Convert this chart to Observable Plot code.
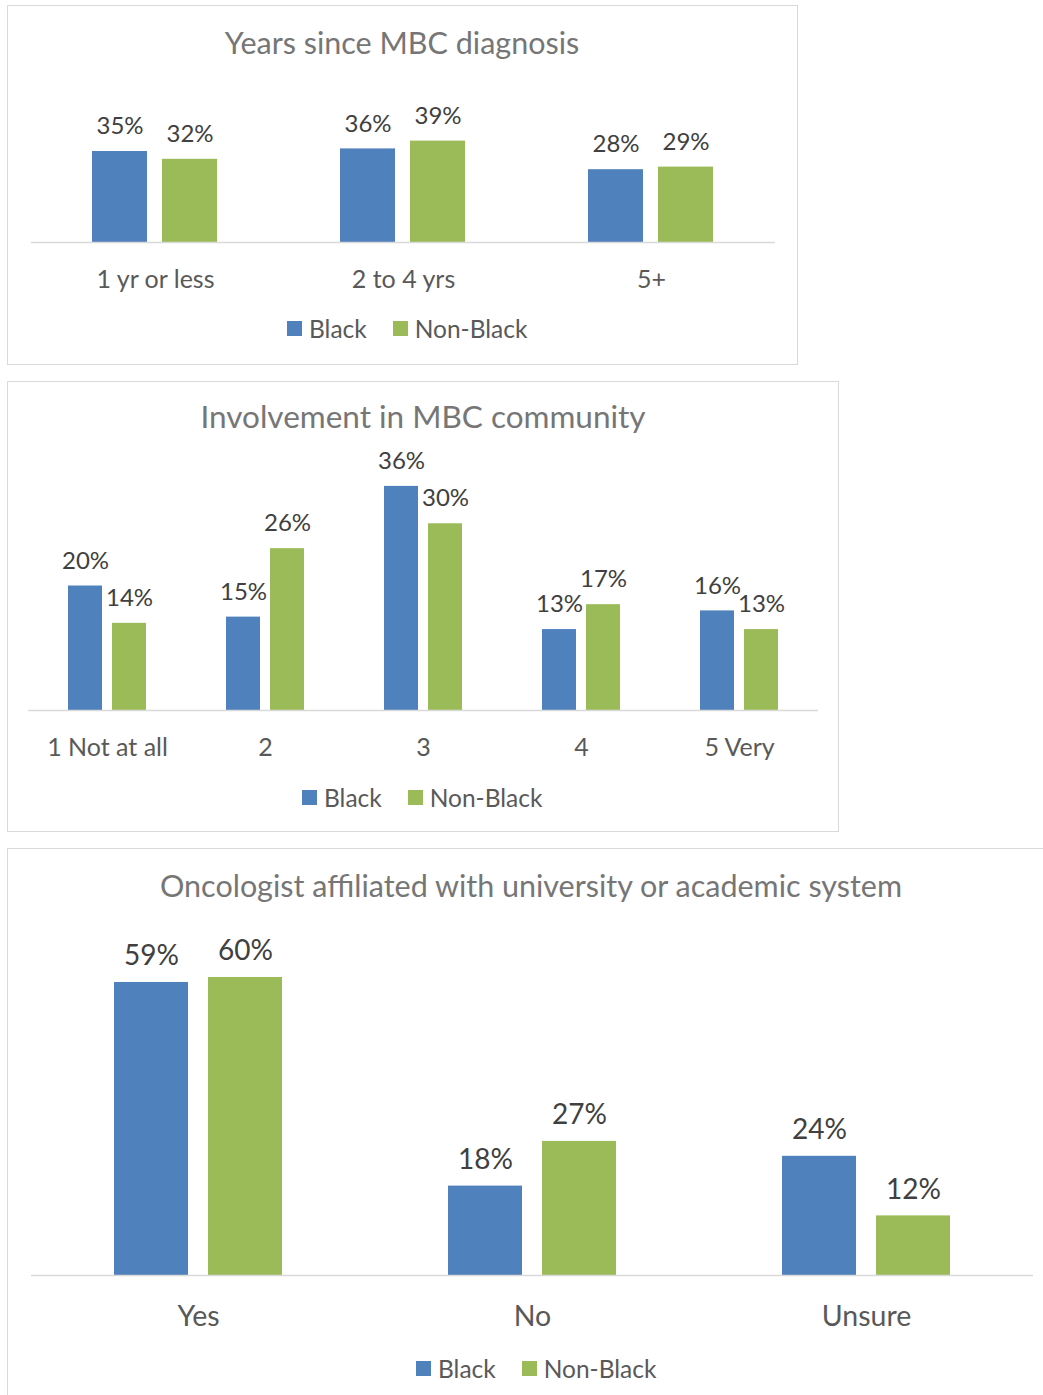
<!DOCTYPE html>
<html><head><meta charset="utf-8">
<script src="https://cdn.jsdelivr.net/npm/d3@7"></script>
<script src="https://cdn.jsdelivr.net/npm/@observablehq/plot@0.6"></script>
<style>
body{margin:0;background:#fff;font-family:Lato, sans-serif;}
#page{position:relative;width:1043px;height:1395px;overflow:hidden;background:#fff;}
.panel{position:absolute;border:1px solid #d9d9d9;box-sizing:border-box;}
.title{position:absolute;text-align:center;color:#767676;white-space:nowrap;}
.chart{position:absolute;left:0;}
.legend{position:absolute;display:flex;align-items:center;color:#595959;white-space:nowrap;height:26px;}
.sw{display:inline-block;width:15px;height:15px;margin-right:7px;}
.item{display:flex;align-items:center;margin-right:26px;}
</style></head><body><div id="page"></div>
<script>
const series = ["Black", "Non-Black"];
const colors = ["#4f81bd", "#9bbb59"];

const yearsTitle = "Years since MBC diagnosis";
const yearsCategories = ["1 yr or less", "2 to 4 yrs", "5+"];
const yearsBlack = [35, 36, 28];
const yearsNonBlack = [32, 39, 29];

const involvementTitle = "Involvement in MBC community";
const involvementCategories = ["1 Not at all", "2", "3", "4", "5 Very"];
const involvementBlack = [20, 15, 36, 13, 16];
const involvementNonBlack = [14, 26, 30, 17, 13];

const oncologistTitle = "Oncologist affiliated with university or academic system";
const oncologistCategories = ["Yes", "No", "Unsure"];
const oncologistBlack = [59, 18, 24];
const oncologistNonBlack = [60, 27, 12];

const page = document.getElementById("page");

function makePanel(o) {
  const box = document.createElement("div");
  box.className = "panel";
  Object.assign(box.style, {left: o.box[0] + "px", top: o.box[1] + "px", width: o.box[2] + "px", height: o.box[3] + "px"});
  page.appendChild(box);

  const t = document.createElement("div");
  t.className = "title";
  t.textContent = o.title;
  Object.assign(t.style, {left: (o.titleX - 500) + "px", width: "1000px", top: (o.titleY - o.titleSize / 2) + "px", fontSize: o.titleSize + "px", lineHeight: o.titleSize + "px"});
  page.appendChild(t);

  const rows = o.categories.flatMap((c, i) => [
    {category: c, series: series[0], value: o.black[i]},
    {category: c, series: series[1], value: o.nonBlack[i]}
  ]);

  const chart = Plot.plot({
    width: o.width, height: o.height,
    marginLeft: o.marginLeft, marginRight: o.marginRight,
    marginTop: o.marginTop, marginBottom: o.marginBottom,
    style: {fontFamily: "Lato, sans-serif", fontSize: o.labelSize + "px", color: "#595959", background: "transparent", overflow: "visible"},
    fx: {domain: o.categories, padding: 0, axis: "bottom", label: null, tickSize: 0, tickPadding: o.tickPadding},
    x: {domain: series, paddingInner: o.paddingInner, paddingOuter: o.paddingOuter, axis: null},
    y: {domain: [0, o.yMax], axis: null},
    color: {domain: series, range: colors},
    marks: [
      Plot.barY(rows, {fx: "category", x: "series", y: "value", fill: "series"}),
      Plot.ruleY([0], {stroke: "#d9d9d9", strokeWidth: 1.5}),
      Plot.text(rows, {fx: "category", x: "series", y: "value", text: d => d.value + "%", dy: -o.valueOffset, fill: "#404040", fontSize: o.valueSize})
    ]
  });
  chart.classList.add("chart");
  chart.style.top = o.top + "px";
  chart.style.position = "absolute";
  page.appendChild(chart);

  const lg = document.createElement("div");
  lg.className = "legend";
  Object.assign(lg.style, {left: o.legendX + "px", top: (o.legendY - 13) + "px", fontSize: o.legendSize + "px"});
  series.forEach((s, i) => {
    const it = document.createElement("span");
    it.className = "item";
    const sw = document.createElement("span");
    sw.className = "sw";
    sw.style.background = colors[i];
    it.appendChild(sw);
    it.appendChild(document.createTextNode(s));
    lg.appendChild(it);
  });
  page.appendChild(lg);
}

makePanel({
  title: yearsTitle, categories: yearsCategories, black: yearsBlack, nonBlack: yearsNonBlack,
  box: [7, 5, 791, 360], titleX: 402, titleY: 42, titleSize: 30.5,
  top: 5, width: 800, height: 297, marginLeft: 30, marginRight: 24, marginTop: 133, marginBottom: 60,
  yMax: 40, paddingInner: 0.211, paddingOuter: 0.857,
  labelSize: 25, tickPadding: 28, valueSize: 24, valueOffset: 25,
  legendX: 287, legendY: 328, legendSize: 24.5
});

makePanel({
  title: involvementTitle, categories: involvementCategories, black: involvementBlack, nonBlack: involvementNonBlack,
  box: [7, 381, 832, 451], titleX: 423, titleY: 417, titleSize: 31.5,
  top: 381, width: 845, height: 389, marginLeft: 28, marginRight: 27, marginTop: 80, marginBottom: 60,
  yMax: 40, paddingInner: 0.222, paddingOuter: 0.867,
  labelSize: 25, tickPadding: 28, valueSize: 24, valueOffset: 25,
  legendX: 302, legendY: 797, legendSize: 24.5
});

makePanel({
  title: oncologistTitle, categories: oncologistCategories, black: oncologistBlack, nonBlack: oncologistNonBlack,
  box: [7, 848, 1100, 600], titleX: 531, titleY: 885, titleSize: 30.5,
  top: 848, width: 1043, height: 487, marginLeft: 30, marginRight: 10, marginTop: 129, marginBottom: 60,
  yMax: 60, paddingInner: 0.2105, paddingOuter: 0.866,
  labelSize: 28.5, tickPadding: 30, valueSize: 28, valueOffset: 26,
  legendX: 416, legendY: 1368, legendSize: 24.5
});
</script></body></html>
